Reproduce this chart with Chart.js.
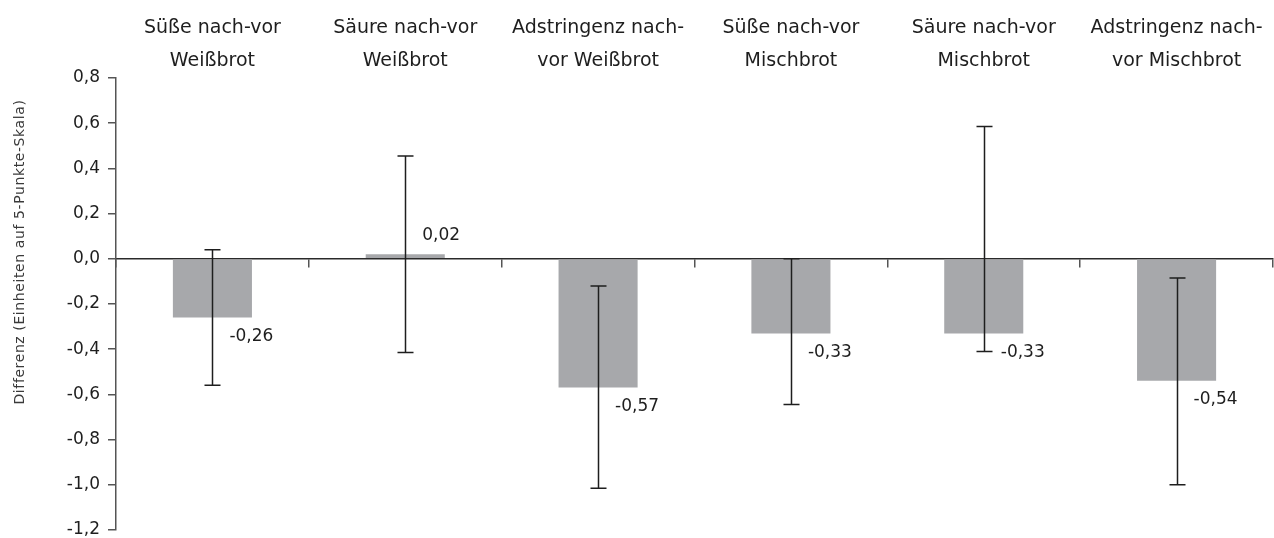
<!DOCTYPE html>
<html>
<head>
<meta charset="utf-8">
<script src="https://cdn.jsdelivr.net/npm/chart.js@4.4.1/dist/chart.umd.min.js"></script>
<style>
  html, body { margin: 0; padding: 0; background: #fff; }
  #wrap { width: 1274px; height: 538px; }
</style>
</head>
<body>
<div id="wrap"><canvas id="chart"></canvas></div>
<script>
const categories = [
  ['Süße nach-vor', 'Weißbrot'],
  ['Säure nach-vor', 'Weißbrot'],
  ['Adstringenz nach-', 'vor Weißbrot'],
  ['Süße nach-vor', 'Mischbrot'],
  ['Säure nach-vor', 'Mischbrot'],
  ['Adstringenz nach-', 'vor Mischbrot']
];
const diffValues = [-0.26, 0.02, -0.57, -0.33, -0.33, -0.54];
const errUpper = [0.04, 0.455, -0.12, 0.0, 0.585, -0.085];
const errLower = [-0.56, -0.415, -1.015, -0.645, -0.41, -1.0];
const valueLabels = ['-0,26', '0,02', '-0,57', '-0,33', '-0,33', '-0,54'];
const yTitle = 'Differenz (Einheiten auf 5-Punkte-Skala)';

const FONT = "'DejaVu Sans', 'Liberation Sans', Arial, sans-serif";

// error bars + value labels drawn on top of the bars, plus the y title
const errorBarPlugin = {
  id: 'errorBars',
  afterDatasetsDraw(chart) {
    const ctx = chart.ctx;
    const y = chart.scales.y;
    const meta = chart.getDatasetMeta(0);
    ctx.save();
    ctx.strokeStyle = '#1e1e1e';
    ctx.lineWidth = 1.5;
    meta.data.forEach((bar, i) => {
      const x = Math.round(bar.x) + 0.5;
      const top = y.getPixelForValue(errUpper[i]);
      const bot = y.getPixelForValue(errLower[i]);
      ctx.beginPath();
      ctx.moveTo(x, top); ctx.lineTo(x, bot);
      ctx.moveTo(x - 8, top); ctx.lineTo(x + 8, top);
      ctx.moveTo(x - 8, bot); ctx.lineTo(x + 8, bot);
      ctx.stroke();

      const v = diffValues[i];
      const end = y.getPixelForValue(v);
      ctx.fillStyle = '#1e1e1e';
      ctx.font = '17px ' + FONT;
      ctx.textAlign = 'left';
      ctx.textBaseline = 'middle';
      ctx.fillText(valueLabels[i], bar.x + 17, v < 0 ? end + 19 : end - 19);
    });

    // axis title, centred a bit above the middle like the original
    ctx.translate(20, y.getPixelForValue(0.03));
    ctx.rotate(-Math.PI / 2);
    ctx.font = '14px ' + FONT;
    ctx.letterSpacing = '0.6px';
    ctx.fillStyle = '#3a3a3a';
    ctx.textAlign = 'center';
    ctx.textBaseline = 'middle';
    ctx.fillText(yTitle, 0, 0);
    ctx.restore();
  }
};

new Chart(document.getElementById('chart'), {
  type: 'bar',
  data: {
    labels: categories,
    datasets: [{
      data: diffValues,
      xAxisID: 'x',
      backgroundColor: '#a7a8ab',
      borderWidth: 0,
      barPercentage: 0.41,
      categoryPercentage: 1.0
    }]
  },
  options: {
    responsive: true,
    maintainAspectRatio: false,
    animation: false,
    layout: { padding: { left: 0, right: 1, top: 0, bottom: 8 } },
    plugins: {
      legend: { display: false },
      tooltip: { enabled: false }
    },
    scales: {
      x: {
        position: { y: 0 },
        offset: true,
        grid: {
          display: true,
          offset: true,
          drawOnChartArea: false,
          drawTicks: true,
          tickLength: 8,
          color: '#555',
          lineWidth: 1.5
        },
        border: { display: true, color: '#2a2a2a', width: 1.5 },
        ticks: { display: false },
        afterFit(scale) { scale.paddingBottom = 0; scale.paddingTop = 0; }
      },
      x2: {
        type: 'category',
        position: 'top',
        labels: categories,
        offset: true,
        grid: { display: false, drawTicks: false },
        border: { display: false },
        ticks: {
          color: '#1e1e1e',
          font: { family: FONT, size: 19, lineHeight: 1.75 },
          padding: 0,
          maxRotation: 0,
          autoSkip: false
        },
        afterFit(scale) { scale.height = 78; }
      },
      y: {
        min: -1.2,
        max: 0.8,
        ticks: {
          stepSize: 0.2,
          color: '#1e1e1e',
          font: { family: FONT, size: 17 },
          padding: 8,
          callback: v => v.toFixed(1).replace('.', ',')
        },
        grid: {
          display: true,
          drawOnChartArea: false,
          drawTicks: true,
          tickLength: 8,
          color: '#555',
          lineWidth: 1.5
        },
        border: { display: true, color: '#555', width: 1.5 },
        title: { display: false },
        afterFit(scale) { scale.width = 116; scale.paddingBottom = 0; scale.paddingTop = 0; }
      }
    }
  },
  plugins: [errorBarPlugin]
});
</script>
</body>
</html>
